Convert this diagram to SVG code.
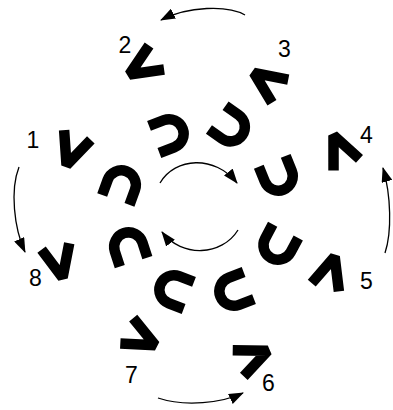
<svg xmlns="http://www.w3.org/2000/svg" width="393" height="410" viewBox="0 0 393 410">
<defs>
<style>
.sh{fill:none;stroke:#000;stroke-width:10.5;stroke-linejoin:bevel;stroke-linecap:butt}
.lb{font-family:"Liberation Sans",Arial,sans-serif;font-size:23px;fill:#000;text-anchor:middle}
.ar{fill:none;stroke:#000;stroke-width:1.3}
</style>
<polyline id="vs" class="sh" points="-14.2,-16 0,16 14.2,-16"/>
<path id="us" class="sh" d="M-14.5,-18 V-2 A14.5,14.5 0 0 0 14.5,-2 V-18"/>
<marker id="ah" markerUnits="userSpaceOnUse" markerWidth="15" markerHeight="11" viewBox="0 0 15 11" refX="14" refY="5.5" orient="auto">
<path d="M0,0 L15,5.5 L0,11 z" fill="#000"/>
</marker>
</defs>
<rect width="393" height="410" fill="#fff"/>
<g id="connectors">
<path class="ar" d="M245,15 C228,5 188,6 161,20" marker-end="url(#ah)"/>
<path class="ar" d="M19,167 C10,190 14,228 25,252" marker-end="url(#ah)"/>
<path class="ar" d="M385,253 C392,232 391,195 383,168" marker-end="url(#ah)"/>
<path class="ar" d="M158,398 C185,407 222,403 243,393" marker-end="url(#ah)"/>
<path class="ar" d="M160,183 C175,157 215,155 237,183" marker-end="url(#ah)"/>
<path class="ar" d="M238,230 C222,256 182,258 162,232" marker-end="url(#ah)"/>
</g>
<g id="n1"><use href="#vs" transform="translate(72,150) rotate(20)"/><text class="lb" x="33" y="148">1</text></g>
<g id="n2"><use href="#vs" transform="translate(143,66) rotate(58)"/><text class="lb" x="125" y="53">2</text></g>
<g id="n3"><use href="#vs" transform="translate(267,82) rotate(125)"/><text class="lb" x="284.5" y="57">3</text></g>
<g id="n4"><use href="#vs" transform="translate(340,150) rotate(156)"/><text class="lb" x="366.5" y="143">4</text></g>
<g id="n5"><use href="#vs" transform="translate(330,272) rotate(197)"/><text class="lb" x="366.5" y="289">5</text></g>
<g id="n6"><use href="#vs" transform="translate(253,357) rotate(247)"/><text class="lb" x="268.5" y="391">6</text></g>
<g id="n7"><use href="#vs" transform="translate(141,338) rotate(297)"/><text class="lb" x="131.5" y="383">7</text></g>
<g id="n8"><use href="#vs" transform="translate(59,262) rotate(347)"/><text class="lb" x="35.5" y="286">8</text></g>
<g id="u1"><use href="#us" transform="translate(122,183) rotate(200)"/></g>
<g id="u2"><use href="#us" transform="translate(171,133) rotate(249)"/></g>
<g id="u3"><use href="#us" transform="translate(232,128) rotate(305)"/></g>
<g id="u4"><use href="#us" transform="translate(279,178) rotate(338)"/></g>
<g id="u5"><use href="#us" transform="translate(277,247) rotate(28)"/></g>
<g id="u6"><use href="#us" transform="translate(232,292) rotate(69)"/></g>
<g id="u7"><use href="#us" transform="translate(172,289) rotate(111)"/></g>
<g id="u8"><use href="#us" transform="translate(128,245) rotate(162)"/></g>
</svg>
